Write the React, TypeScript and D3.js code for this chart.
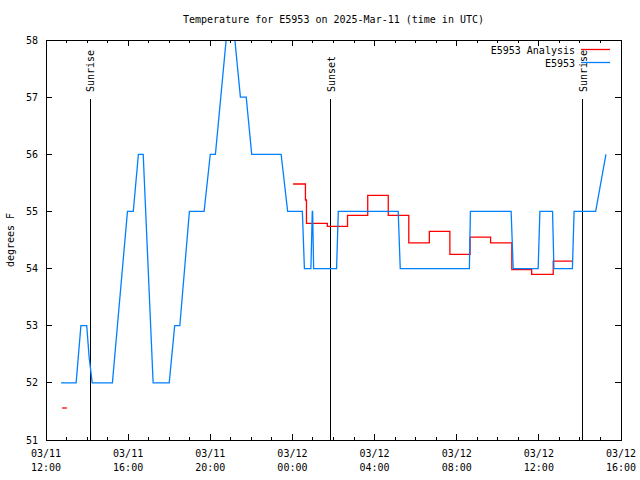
import React from "react";
import * as d3 from "d3";

const title = "Temperature for E5953 on 2025-Mar-11 (time in UTC)";
const yLabel = "degrees F";

const blueTimes = [
  "2025-03-11T12:44", "2025-03-11T13:28", "2025-03-11T13:42", "2025-03-11T13:59", "2025-03-11T14:06",
  "2025-03-11T14:15", "2025-03-11T15:14", "2025-03-11T15:58", "2025-03-11T16:15", "2025-03-11T16:30",
  "2025-03-11T16:44", "2025-03-11T17:13", "2025-03-11T18:00", "2025-03-11T18:16", "2025-03-11T18:31",
  "2025-03-11T18:59", "2025-03-11T19:42", "2025-03-11T20:00", "2025-03-11T20:15", "2025-03-11T20:51",
  "2025-03-11T21:07", "2025-03-11T21:28", "2025-03-11T21:45", "2025-03-11T22:01", "2025-03-11T23:27",
  "2025-03-11T23:46", "2025-03-12T00:29", "2025-03-12T00:35", "2025-03-12T00:54", "2025-03-12T00:58",
  "2025-03-12T00:59", "2025-03-12T01:02", "2025-03-12T02:09", "2025-03-12T02:14", "2025-03-12T05:09",
  "2025-03-12T05:15", "2025-03-12T08:37", "2025-03-12T08:40", "2025-03-12T10:39", "2025-03-12T10:45",
  "2025-03-12T11:58", "2025-03-12T12:03", "2025-03-12T12:40", "2025-03-12T12:44", "2025-03-12T13:38",
  "2025-03-12T13:43", "2025-03-12T14:46", "2025-03-12T15:16",
];
const blueValues = [
  52, 52, 53, 53, 52.45,
  52, 52, 55, 55, 56,
  56, 52, 52, 53, 53,
  55, 55, 56, 56, 58.3,
  58.3, 57, 57, 56, 56,
  55, 55, 54, 54, 55,
  55, 54, 54, 55, 55,
  54, 54, 55, 55, 54,
  54, 55, 55, 54, 54,
  55, 55, 56,
];

const redEarlyTimes = ["2025-03-11T12:47", "2025-03-11T13:01"];
const redEarlyValues = [51.56, 51.56];

const redTimes = [
  "2025-03-12T00:02", "2025-03-12T00:38", "2025-03-12T00:41", "2025-03-12T01:42", "2025-03-12T02:41",
  "2025-03-12T03:40", "2025-03-12T04:40", "2025-03-12T05:40", "2025-03-12T06:40", "2025-03-12T07:40",
  "2025-03-12T08:39", "2025-03-12T09:39", "2025-03-12T10:41", "2025-03-12T11:39", "2025-03-12T12:42",
  "2025-03-12T13:38",
];
const redValues = [
  55.48, 55.2, 54.79, 54.74, 54.93,
  55.28, 54.93, 54.45, 54.65, 54.25,
  54.55, 54.45, 53.98, 53.9, 54.13,
  54.13,
];

const eventTimes = ["2025-03-11T14:09", "2025-03-12T01:52", "2025-03-12T14:08"];
const eventLabels = ["Sunrise", "Sunset", "Sunrise"];

const xDomain = ["2025-03-11T12:00", "2025-03-12T16:00"];
const yTicks = [51, 52, 53, 54, 55, 56, 57, 58];

const legendLabels = ["E5953 Analysis", "E5953"];
const legendColors = ["#ff0000", "#0080ff"];

const parse = d3.utcParse("%Y-%m-%dT%H:%M");

export default function App() {
  const W = 640, H = 480;
  const L = 46, R = 621, T = 40, B = 440;
  const font = "'DejaVu Sans Mono', monospace";

  const x = d3.scaleUtc().domain(xDomain.map((s) => parse(s) as Date)).range([L, R]);
  const y = d3.scaleLinear().domain([51, 58]).range([B, T]);

  const blue = blueTimes.map((t, i) => ({ t: parse(t) as Date, v: blueValues[i] }));
  const redA = redEarlyTimes.map((t, i) => ({ t: parse(t) as Date, v: redEarlyValues[i] }));
  const redB = redTimes.map((t, i) => ({ t: parse(t) as Date, v: redValues[i] }));

  const lineLin = d3.line<{ t: Date; v: number }>().x((d) => x(d.t)).y((d) => y(d.v));
  const lineStep = d3
    .line<{ t: Date; v: number }>()
    .x((d) => x(d.t))
    .y((d) => y(d.v))
    .curve(d3.curveStepAfter);

  const minorTicks = x.ticks(d3.utcHour.every(1) as any);
  const majorTicks = x.ticks(d3.utcHour.every(4) as any);
  const fmtDate = d3.utcFormat("%m/%d");
  const fmtTime = d3.utcFormat("%H:%M");

  return (
    <svg
      width={W}
      height={H}
      style={{ position: "absolute", left: 0, top: 0, background: "#fff" }}
      fontFamily={font}
      fontSize={10}
    >
      <defs>
        <clipPath id="plotclip">
          <rect x={L} y={T} width={R - L} height={B - T} />
        </clipPath>
      </defs>
      <rect x={0} y={0} width={W} height={H} fill="#fff" />

      <text x={(L + R) / 2} y={23} textAnchor="middle" fill="#000">
        {title}
      </text>

      <g stroke="#000" strokeWidth={1} shapeRendering="crispEdges">
        {minorTicks.map((d, i) => (
          <g key={"mn" + i}>
            <line x1={x(d)} x2={x(d)} y1={B} y2={B - 3} />
            <line x1={x(d)} x2={x(d)} y1={T} y2={T + 3} />
          </g>
        ))}
        {majorTicks.map((d, i) => (
          <g key={"mj" + i}>
            <line x1={x(d)} x2={x(d)} y1={B} y2={B - 6} />
            <line x1={x(d)} x2={x(d)} y1={T} y2={T + 6} />
          </g>
        ))}
        {yTicks.map((v) => (
          <g key={"y" + v}>
            <line x1={L} x2={L + 6} y1={y(v)} y2={y(v)} />
            <line x1={R} x2={R - 6} y1={y(v)} y2={y(v)} />
          </g>
        ))}
      </g>

      {yTicks.map((v) => (
        <text key={"yl" + v} x={38} y={y(v) + 3.5} textAnchor="end" fill="#000">
          {v}
        </text>
      ))}
      {majorTicks.map((d, i) => (
        <g key={"xl" + i}>
          <text x={x(d)} y={456.5} textAnchor="middle" fill="#000">
            {fmtDate(d)}
          </text>
          <text x={x(d)} y={470.5} textAnchor="middle" fill="#000">
            {fmtTime(d)}
          </text>
        </g>
      ))}

      <text transform={`translate(14,240) rotate(-90)`} textAnchor="middle" fill="#000">
        {yLabel}
      </text>

      {eventTimes.map((t, i) => {
        const ex = x(parse(t) as Date);
        return (
          <g key={"ev" + i}>
            <line x1={ex} x2={ex} y1={99} y2={B} stroke="#000" strokeWidth={1} shapeRendering="crispEdges" />
            <text transform={`translate(${ex + 4},92) rotate(-90)`} textAnchor="start" fill="#000">
              {eventLabels[i]}
            </text>
          </g>
        );
      })}

      <g clipPath="url(#plotclip)" fill="none" strokeWidth={1.3}>
        <path d={lineLin(redA) || ""} stroke={legendColors[0]} />
        <path d={lineStep(redB) || ""} stroke={legendColors[0]} />
        <path d={lineLin(blue) || ""} stroke={legendColors[1]} />
      </g>

      {legendLabels.map((lab, i) => (
        <g key={"lg" + i}>
          <text x={575} y={53.5 + i * 13} textAnchor="end" fill="#000">
            {lab}
          </text>
          <line x1={581} x2={610} y1={49.5 + i * 13} y2={49.5 + i * 13} stroke={legendColors[i]} strokeWidth={1.3} />
        </g>
      ))}

      <rect x={L} y={T} width={R - L} height={B - T} fill="none" stroke="#000" strokeWidth={1} shapeRendering="crispEdges" />
    </svg>
  );
}
